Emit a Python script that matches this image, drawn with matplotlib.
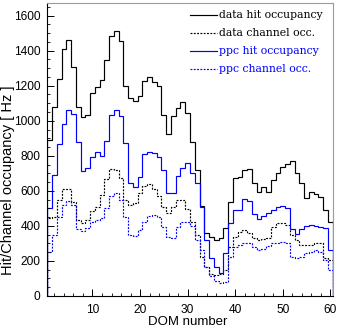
import numpy as np
import matplotlib
matplotlib.use("Agg")
import matplotlib.pyplot as plt
from matplotlib.lines import Line2D

# ---- data (DOM 1..60) ----
dom_edges = np.arange(0.5, 61.5, 1.0)

data_hit = [890, 1077, 1238, 1408, 1461, 1309, 1081, 1020, 1033, 1157,
            1191, 1233, 1347, 1486, 1511, 1457, 1196, 1128, 1113, 1143,
            1227, 1252, 1223, 1200, 1033, 925, 1025, 1070, 1105, 1046,
            881, 719, 515, 358, 339, 320, 329, 386, 538, 672,
            677, 720, 722, 645, 595, 624, 595, 662, 704, 738,
            753, 772, 700, 643, 557, 592, 582, 563, 492, 424]

data_chan = [443, 450, 546, 609, 609, 535, 436, 415, 434, 483,
             508, 576, 666, 727, 719, 675, 545, 522, 529, 586,
             629, 639, 612, 570, 510, 476, 510, 545, 545, 495,
             420, 350, 224, 167, 125, 119, 125, 150, 280, 338,
             367, 377, 361, 329, 320, 325, 329, 396, 415, 415,
             405, 348, 320, 290, 291, 291, 301, 301, 215, 205]

ppc_hit = [500, 691, 866, 980, 1060, 1037, 877, 715, 728, 795,
           824, 801, 885, 1033, 1064, 1029, 871, 643, 624, 681,
           810, 824, 814, 795, 719, 586, 586, 685, 730, 757,
           700, 647, 510, 320, 215, 167, 129, 243, 415, 491,
           492, 555, 540, 469, 440, 458, 476, 493, 507, 512,
           500, 380, 355, 380, 400, 405, 400, 395, 390, 262]

ppc_chan = [250, 350, 450, 522, 544, 517, 383, 373, 388, 420,
            434, 443, 502, 570, 586, 547, 452, 350, 340, 378,
            424, 457, 462, 449, 392, 338, 329, 392, 424, 424,
            400, 320, 263, 167, 115, 88, 72, 80, 224, 282,
            291, 305, 301, 278, 263, 266, 285, 301, 305, 310,
            301, 224, 215, 224, 243, 253, 263, 253, 205, 148]

legend_labels = ["data hit occupancy", "data channel occ.",
                 "ppc hit occupancy", "ppc channel occ."]
x_title = "DOM number"
y_title = "Hit/Channel occupancy [ Hz ]"

# ---- figure ----
W, H = 338, 334
fig = plt.figure(figsize=(W / 100, H / 100), dpi=100)
L, R, B, T = 47.3, 332.7, 296.0, 3.0
ax = fig.add_axes([L / W, 1 - B / H, (R - L) / W, (B - T) / H])

dot = (0, (1.6, 1.2))
series = [
    (data_hit, "black", "-"),
    (data_chan, "black", dot),
    (ppc_hit, "blue", "-"),
    (ppc_chan, "blue", dot),
]
for vals, col, ls in series:
    ax.stairs(vals, dom_edges, baseline=0, color=col, linestyle=ls, lw=0.85)

ax.set_xlim(0.5, 60.5)
ax.set_ylim(0, 1672)

ax.set_xticks(np.arange(10, 61, 10))
ax.set_xticks(np.arange(2, 61, 2), minor=True)
ax.set_yticks(np.arange(0, 1601, 200))
ax.set_yticks(np.arange(0, 1651, 50), minor=True)
ax.tick_params(which="both", direction="in", top=False, right=False)
ax.tick_params(which="major", length=5, width=0.7)
ax.tick_params(which="minor", length=2.5, width=0.6)
ax.tick_params(axis="x", pad=6)
ax.tick_params(axis="y", pad=5)

for lab in ax.get_xticklabels() + ax.get_yticklabels():
    lab.set_fontfamily("Liberation Sans")
    lab.set_fontsize(8.6)

for s in ("top", "right"):
    ax.spines[s].set_color("#9a9a9a")
    ax.spines[s].set_linewidth(0.8)
for s in ("left", "bottom"):
    ax.spines[s].set_color("black")
    ax.spines[s].set_linewidth(0.8)

fig.text(188 / W, 1 - 322 / H, x_title, ha="center", va="center",
         fontfamily="Liberation Sans", fontsize=9.5)
fig.text(8 / W, 1 - 180 / H, y_title, ha="center", va="center",
         rotation=90, fontfamily="Liberation Sans", fontsize=10.5)

# legend (manual, ROOT-style)
leg_cols = ["black", "black", "blue", "blue"]
leg_ls = ["-", dot, "-", dot]
for k, (lab, col, ls) in enumerate(zip(legend_labels, leg_cols, leg_ls)):
    ypx = 15 + 18 * k
    fig.add_artist(Line2D([190 / W, 217 / W], [1 - ypx / H, 1 - ypx / H],
                          color=col, linestyle=ls, lw=0.85,
                          transform=fig.transFigure))
    fig.text(219 / W, 1 - ypx / H, lab, ha="left", va="center",
             color=col, fontfamily="DejaVu Serif", fontsize=7.8)

fig.savefig("out.png", dpi=100)
